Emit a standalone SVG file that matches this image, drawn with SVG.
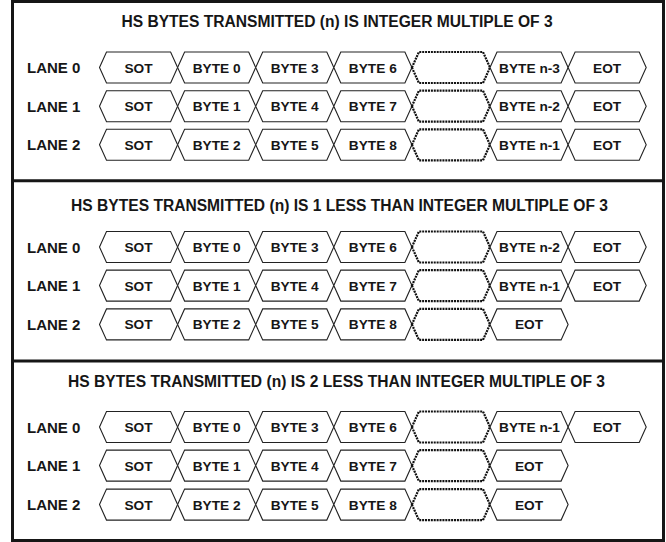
<svg xmlns="http://www.w3.org/2000/svg" xmlns:xlink="http://www.w3.org/1999/xlink" width="666" height="542" viewBox="0 0 666 542">
<style>
.frame{fill:none;stroke:#161616;stroke-width:3}
.hex{fill:#fff;stroke:#222;stroke-width:1.1}
.gap{fill:#fff;stroke:#111;stroke-width:2.2;stroke-dasharray:2 0.9}
.title{font-family:"Liberation Sans",Arial,sans-serif;font-weight:bold;font-size:15.6px;fill:#161616;text-anchor:middle}
.lane{font-family:"Liberation Sans",Arial,sans-serif;font-weight:bold;font-size:15px;fill:#161616}
.cell{font-family:"Liberation Sans",Arial,sans-serif;font-weight:bold;font-size:13.7px;fill:#161616;text-anchor:middle}
</style>
<defs>
<polygon id="hexshape" points="0,0 7,-15.5 71.1,-15.5 78.1,0 71.1,15.5 7,15.5"/>
</defs>
<g id="frame">
<rect class="frame" x="12.5" y="1.5" width="651" height="539"/>
<line class="frame" x1="12.5" y1="180.8" x2="663.5" y2="180.8"/>
<line class="frame" x1="12.5" y1="361" x2="663.5" y2="361"/>
</g>
<g id="titles">
<text class="title" x="337" y="26.7">HS BYTES TRANSMITTED (n) IS INTEGER MULTIPLE OF 3</text>
<text class="title" x="339.5" y="211">HS BYTES TRANSMITTED (n) IS 1 LESS THAN INTEGER MULTIPLE OF 3</text>
<text class="title" x="336.5" y="387.3">HS BYTES TRANSMITTED (n) IS 2 LESS THAN INTEGER MULTIPLE OF 3</text>
</g>
<g id="lane-labels">
<text class="lane" x="27" y="73.1">LANE 0</text>
<text class="lane" x="27" y="111.8">LANE 1</text>
<text class="lane" x="27" y="150.4">LANE 2</text>
<text class="lane" x="27" y="252.6">LANE 0</text>
<text class="lane" x="27" y="291.2">LANE 1</text>
<text class="lane" x="27" y="330">LANE 2</text>
<text class="lane" x="27" y="432.6">LANE 0</text>
<text class="lane" x="27" y="471.2">LANE 1</text>
<text class="lane" x="27" y="510.2">LANE 2</text>
</g>

<!-- Panel 1 -->
<g id="p1-l0">
<g id="p1-l0-sot" transform="translate(99.5,67.5)"><use href="#hexshape" class="hex"/><text class="cell" x="39" y="5">SOT</text></g>
<g id="p1-l0-b0" transform="translate(177.6,67.5)"><use href="#hexshape" class="hex"/><text class="cell" x="39" y="5">BYTE 0</text></g>
<g id="p1-l0-b3" transform="translate(255.7,67.5)"><use href="#hexshape" class="hex"/><text class="cell" x="39" y="5">BYTE 3</text></g>
<g id="p1-l0-b6" transform="translate(333.8,67.5)"><use href="#hexshape" class="hex"/><text class="cell" x="39" y="5">BYTE 6</text></g>
<g id="p1-l0-gap" transform="translate(411.9,67.5)"><use href="#hexshape" class="gap"/></g>
<g id="p1-l0-bn3" transform="translate(490,67.5)"><use href="#hexshape" class="hex"/><text class="cell" x="39.5" y="5">BYTE n-3</text></g>
<g id="p1-l0-eot" transform="translate(568.1,67.5)"><use href="#hexshape" class="hex"/><text class="cell" x="39" y="5">EOT</text></g>
</g>
<g id="p1-l1">
<g id="p1-l1-sot" transform="translate(99.5,106.2)"><use href="#hexshape" class="hex"/><text class="cell" x="39" y="5">SOT</text></g>
<g id="p1-l1-b1" transform="translate(177.6,106.2)"><use href="#hexshape" class="hex"/><text class="cell" x="39" y="5">BYTE 1</text></g>
<g id="p1-l1-b4" transform="translate(255.7,106.2)"><use href="#hexshape" class="hex"/><text class="cell" x="39" y="5">BYTE 4</text></g>
<g id="p1-l1-b7" transform="translate(333.8,106.2)"><use href="#hexshape" class="hex"/><text class="cell" x="39" y="5">BYTE 7</text></g>
<g id="p1-l1-gap" transform="translate(411.9,106.2)"><use href="#hexshape" class="gap"/></g>
<g id="p1-l1-bn2" transform="translate(490,106.2)"><use href="#hexshape" class="hex"/><text class="cell" x="39.5" y="5">BYTE n-2</text></g>
<g id="p1-l1-eot" transform="translate(568.1,106.2)"><use href="#hexshape" class="hex"/><text class="cell" x="39" y="5">EOT</text></g>
</g>
<g id="p1-l2">
<g id="p1-l2-sot" transform="translate(99.5,144.8)"><use href="#hexshape" class="hex"/><text class="cell" x="39" y="5">SOT</text></g>
<g id="p1-l2-b2" transform="translate(177.6,144.8)"><use href="#hexshape" class="hex"/><text class="cell" x="39" y="5">BYTE 2</text></g>
<g id="p1-l2-b5" transform="translate(255.7,144.8)"><use href="#hexshape" class="hex"/><text class="cell" x="39" y="5">BYTE 5</text></g>
<g id="p1-l2-b8" transform="translate(333.8,144.8)"><use href="#hexshape" class="hex"/><text class="cell" x="39" y="5">BYTE 8</text></g>
<g id="p1-l2-gap" transform="translate(411.9,144.8)"><use href="#hexshape" class="gap"/></g>
<g id="p1-l2-bn1" transform="translate(490,144.8)"><use href="#hexshape" class="hex"/><text class="cell" x="39.5" y="5">BYTE n-1</text></g>
<g id="p1-l2-eot" transform="translate(568.1,144.8)"><use href="#hexshape" class="hex"/><text class="cell" x="39" y="5">EOT</text></g>
</g>

<!-- Panel 2 -->
<g id="p2-l0">
<g id="p2-l0-sot" transform="translate(99.5,247)"><use href="#hexshape" class="hex"/><text class="cell" x="39" y="5">SOT</text></g>
<g id="p2-l0-b0" transform="translate(177.6,247)"><use href="#hexshape" class="hex"/><text class="cell" x="39" y="5">BYTE 0</text></g>
<g id="p2-l0-b3" transform="translate(255.7,247)"><use href="#hexshape" class="hex"/><text class="cell" x="39" y="5">BYTE 3</text></g>
<g id="p2-l0-b6" transform="translate(333.8,247)"><use href="#hexshape" class="hex"/><text class="cell" x="39" y="5">BYTE 6</text></g>
<g id="p2-l0-gap" transform="translate(411.9,247)"><use href="#hexshape" class="gap"/></g>
<g id="p2-l0-bn2" transform="translate(490,247)"><use href="#hexshape" class="hex"/><text class="cell" x="39.5" y="5">BYTE n-2</text></g>
<g id="p2-l0-eot" transform="translate(568.1,247)"><use href="#hexshape" class="hex"/><text class="cell" x="39" y="5">EOT</text></g>
</g>
<g id="p2-l1">
<g id="p2-l1-sot" transform="translate(99.5,285.6)"><use href="#hexshape" class="hex"/><text class="cell" x="39" y="5">SOT</text></g>
<g id="p2-l1-b1" transform="translate(177.6,285.6)"><use href="#hexshape" class="hex"/><text class="cell" x="39" y="5">BYTE 1</text></g>
<g id="p2-l1-b4" transform="translate(255.7,285.6)"><use href="#hexshape" class="hex"/><text class="cell" x="39" y="5">BYTE 4</text></g>
<g id="p2-l1-b7" transform="translate(333.8,285.6)"><use href="#hexshape" class="hex"/><text class="cell" x="39" y="5">BYTE 7</text></g>
<g id="p2-l1-gap" transform="translate(411.9,285.6)"><use href="#hexshape" class="gap"/></g>
<g id="p2-l1-bn1" transform="translate(490,285.6)"><use href="#hexshape" class="hex"/><text class="cell" x="39.5" y="5">BYTE n-1</text></g>
<g id="p2-l1-eot" transform="translate(568.1,285.6)"><use href="#hexshape" class="hex"/><text class="cell" x="39" y="5">EOT</text></g>
</g>
<g id="p2-l2">
<g id="p2-l2-sot" transform="translate(99.5,324.4)"><use href="#hexshape" class="hex"/><text class="cell" x="39" y="5">SOT</text></g>
<g id="p2-l2-b2" transform="translate(177.6,324.4)"><use href="#hexshape" class="hex"/><text class="cell" x="39" y="5">BYTE 2</text></g>
<g id="p2-l2-b5" transform="translate(255.7,324.4)"><use href="#hexshape" class="hex"/><text class="cell" x="39" y="5">BYTE 5</text></g>
<g id="p2-l2-b8" transform="translate(333.8,324.4)"><use href="#hexshape" class="hex"/><text class="cell" x="39" y="5">BYTE 8</text></g>
<g id="p2-l2-gap" transform="translate(411.9,324.4)"><use href="#hexshape" class="gap"/></g>
<g id="p2-l2-eot" transform="translate(490,324.4)"><use href="#hexshape" class="hex"/><text class="cell" x="39" y="5">EOT</text></g>
</g>

<!-- Panel 3 -->
<g id="p3-l0">
<g id="p3-l0-sot" transform="translate(99.5,427)"><use href="#hexshape" class="hex"/><text class="cell" x="39" y="5">SOT</text></g>
<g id="p3-l0-b0" transform="translate(177.6,427)"><use href="#hexshape" class="hex"/><text class="cell" x="39" y="5">BYTE 0</text></g>
<g id="p3-l0-b3" transform="translate(255.7,427)"><use href="#hexshape" class="hex"/><text class="cell" x="39" y="5">BYTE 3</text></g>
<g id="p3-l0-b6" transform="translate(333.8,427)"><use href="#hexshape" class="hex"/><text class="cell" x="39" y="5">BYTE 6</text></g>
<g id="p3-l0-gap" transform="translate(411.9,427)"><use href="#hexshape" class="gap"/></g>
<g id="p3-l0-bn1" transform="translate(490,427)"><use href="#hexshape" class="hex"/><text class="cell" x="39.5" y="5">BYTE n-1</text></g>
<g id="p3-l0-eot" transform="translate(568.1,427)"><use href="#hexshape" class="hex"/><text class="cell" x="39" y="5">EOT</text></g>
</g>
<g id="p3-l1">
<g id="p3-l1-sot" transform="translate(99.5,465.6)"><use href="#hexshape" class="hex"/><text class="cell" x="39" y="5">SOT</text></g>
<g id="p3-l1-b1" transform="translate(177.6,465.6)"><use href="#hexshape" class="hex"/><text class="cell" x="39" y="5">BYTE 1</text></g>
<g id="p3-l1-b4" transform="translate(255.7,465.6)"><use href="#hexshape" class="hex"/><text class="cell" x="39" y="5">BYTE 4</text></g>
<g id="p3-l1-b7" transform="translate(333.8,465.6)"><use href="#hexshape" class="hex"/><text class="cell" x="39" y="5">BYTE 7</text></g>
<g id="p3-l1-gap" transform="translate(411.9,465.6)"><use href="#hexshape" class="gap"/></g>
<g id="p3-l1-eot" transform="translate(490,465.6)"><use href="#hexshape" class="hex"/><text class="cell" x="39" y="5">EOT</text></g>
</g>
<g id="p3-l2">
<g id="p3-l2-sot" transform="translate(99.5,504.6)"><use href="#hexshape" class="hex"/><text class="cell" x="39" y="5">SOT</text></g>
<g id="p3-l2-b2" transform="translate(177.6,504.6)"><use href="#hexshape" class="hex"/><text class="cell" x="39" y="5">BYTE 2</text></g>
<g id="p3-l2-b5" transform="translate(255.7,504.6)"><use href="#hexshape" class="hex"/><text class="cell" x="39" y="5">BYTE 5</text></g>
<g id="p3-l2-b8" transform="translate(333.8,504.6)"><use href="#hexshape" class="hex"/><text class="cell" x="39" y="5">BYTE 8</text></g>
<g id="p3-l2-gap" transform="translate(411.9,504.6)"><use href="#hexshape" class="gap"/></g>
<g id="p3-l2-eot" transform="translate(490,504.6)"><use href="#hexshape" class="hex"/><text class="cell" x="39" y="5">EOT</text></g>
</g>
<g id="connectors"/>
</svg>
